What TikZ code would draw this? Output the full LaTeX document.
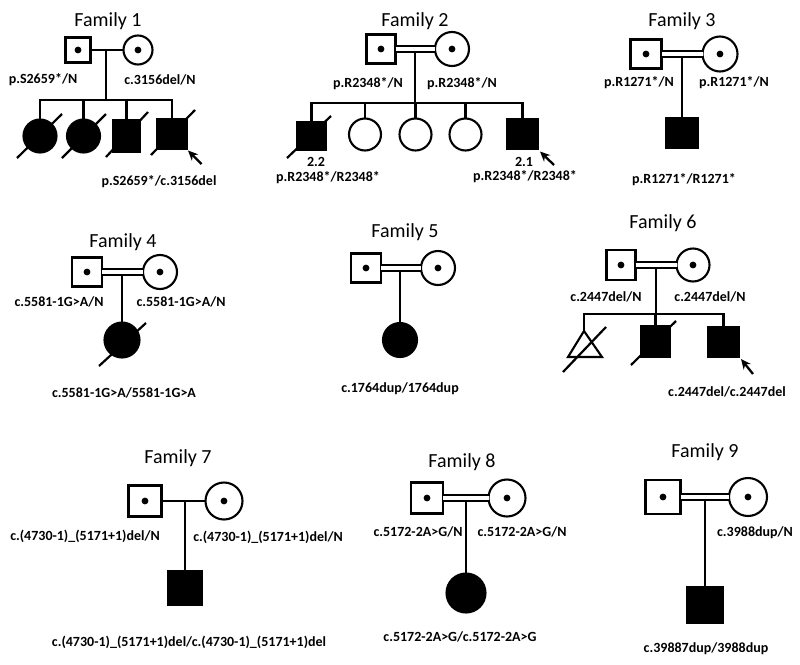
\documentclass[tikz,border=0pt]{standalone}
\usepackage{fontspec}
\setmainfont{Carlito}
\usetikzlibrary{arrows.meta}
\begin{document}
\begin{tikzpicture}[x=1pt,y=-1pt,line width=2.1pt,
  sq/.style args={#1x#2}{draw,rectangle,minimum width=#1pt,minimum height=#2pt,inner sep=0pt,outer sep=0pt,fill=white},
  ci/.style={draw,circle,minimum size=#1pt,inner sep=0pt,outer sep=0pt,fill=white},
  aff/.style={fill=black},
  lbl/.style={font=\bfseries\fontsize{14}{16}\selectfont,inner sep=0pt},
  ttl/.style={font=\fontsize{20}{24}\selectfont,inner sep=0pt},
  mar/.style={double,double distance=3.6pt,line width=1.9pt},
  prb/.style={-{Stealth[length=10pt,width=9pt]},line width=2.3pt},
  dead/.style={line width=2.2pt}]
\useasboundingbox (0,0) rectangle (800,664);

% ---------------- Family 1
\node[ttl] (t1) at (108,21) {Family 1};
\node[sq=25x25] (f1) at (78,50) {};
\node[ci=29] (m1) at (138,50) {};
\coordinate (d1) at (106,50);
\coordinate (s1) at (106,100);
\node[ci=33,aff] (c11) at (40,136) {};
\node[ci=33,aff] (c12) at (83.5,136) {};
\node[sq=26x31,aff] (c13) at (126.5,136) {};
\node[sq=29x30,aff] (c14) at (172,134) {};
\draw (f1) -- (m1);
\draw (d1) -- (s1);
\foreach \c in {c11,c12,c13,c14} \draw (\c.north) |- (s1);
\fill (f1) circle (3.4pt); \fill (m1) circle (3.4pt);
\draw[dead] (17,158) -- (62,114);
\draw[dead] (62,158) -- (106,114);
\draw[dead] (106,157) -- (148,112);
\draw[dead] (151,155) -- (195,110);
\draw[prb] ([shift={(15,15)}]c14.south east) -- ([shift={(1.5,1.5)}]c14.south east);
\node[lbl] (l1a) at (43,80) {p.S2659*/N};
\node[lbl] (l1b) at (160,80) {c.3156del/N};
\node[lbl] (l1c) at (159,182) {p.S2659*/c.3156del};

% ---------------- Family 2
\node[ttl] (t2) at (415,21) {Family 2};
\node[sq=29x29] (f2) at (381,49) {};
\node[ci=34] (m2) at (452,49) {};
\coordinate (d2) at (415,49);
\coordinate (s2) at (415,103);
\node[sq=29x28,aff] (c21) at (311.5,136) {};
\node[ci=32] (c22) at (365,134.5) {};
\node[ci=32] (c23) at (415.5,134.5) {};
\node[ci=32] (c24) at (465.5,134.5) {};
\node[sq=31x30,aff] (c25) at (522.5,134) {};
\draw (d2) -- (s2);
\foreach \c in {c21,c22,c23,c24,c25} \draw (\c.north) |- (s2);
\draw[mar] (f2) -- (m2);
\fill (f2) circle (3.4pt); \fill (m2) circle (3.4pt);
\draw[dead] (287,158) -- (331,116);
\draw[prb] ([shift={(16,16)}]c25.south east) -- ([shift={(2,2.5)}]c25.south east);
\node[lbl] (n22) at (316,162) {2.2};
\node[lbl] (n21) at (524,162) {2.1};
\node[lbl] (l2a) at (368,84) {p.R2348*/N};
\node[lbl] (l2b) at (462,84) {p.R2348*/N};
\node[lbl] (l2c) at (328,178) {p.R2348*/R2348*};
\node[lbl] (l2d) at (525,177) {p.R2348*/R2348*};

% ---------------- Family 3
\node[ttl] (t3) at (682,21) {Family 3};
\node[sq=31x29] (f3) at (646,54) {};
\node[ci=35] (m3) at (720,54) {};
\coordinate (d3) at (682,54);
\node[sq=31x30,aff] (c31) at (682,133) {};
\draw (d3) -- (c31.north);
\draw[mar] (f3) -- (m3);
\fill (f3) circle (3.4pt); \fill (m3) circle (3.4pt);
\node[lbl] (l3a) at (639,83) {p.R1271*/N};
\node[lbl] (l3b) at (734,83) {p.R1271*/N};
\node[lbl] (l3c) at (684,180) {p.R1271*/R1271*};

% ---------------- Family 4
\node[ttl] (t4) at (123,242) {Family 4};
\node[sq=30x29] (f4) at (87,272) {};
\node[ci=34] (m4) at (160,272) {};
\coordinate (d4) at (122,272);
\node[ci=35,aff] (c41) at (122,340) {};
\draw (d4) -- (c41.north);
\draw[mar] (f4) -- (m4);
\fill (f4) circle (3.4pt); \fill (m4) circle (3.4pt);
\draw[dead] (99,366) -- (146,323);
\node[lbl] (l4a) at (59,302) {c.5581-1G>A/N};
\node[lbl] (l4b) at (181,302) {c.5581-1G>A/N};
\node[lbl] (l4c) at (124,393) {c.5581-1G>A/5581-1G>A};

% ---------------- Family 5
\node[ttl] (t5) at (405,232) {Family 5};
\node[sq=30x29] (f5) at (366,268) {};
\node[ci=34] (m5) at (438,268) {};
\coordinate (d5) at (400,268);
\node[ci=34,aff] (c51) at (400,340) {};
\draw (d5) -- (c51.north);
\draw[mar] (f5) -- (m5);
\fill (f5) circle (3.4pt); \fill (m5) circle (3.4pt);
\node[lbl] (l5c) at (400,389) {c.1764dup/1764dup};

% ---------------- Family 6
\node[ttl] (t6) at (663,223) {Family 6};
\node[sq=29x30] (f6) at (621,265) {};
\node[ci=33] (m6) at (693,265) {};
\coordinate (d6) at (656,265);
\coordinate (s6) at (656,314);
\coordinate (c61) at (584,331);
\draw[line join=miter] (c61) -- (568,357) -- (602,357) -- cycle;
\node[sq=29x31,aff] (c62) at (655.5,341.5) {};
\node[sq=31x30,aff] (c63) at (723.5,342) {};
\draw (d6) -- (s6);
\draw (c61) |- (s6);
\foreach \c in {c62,c63} \draw (\c.north) |- (s6);
\draw[mar] (f6) -- (m6);
\fill (f6) circle (3.4pt); \fill (m6) circle (3.4pt);
\draw[dead] (563,372) -- (606,327);
\draw[dead] (631,365) -- (676,321);
\draw[prb] ([shift={(14,17)}]c63.south east) -- ([shift={(2,2)}]c63.south east);
\node[lbl] (l6a) at (606,297) {c.2447del/N};
\node[lbl] (l6b) at (710,297) {c.2447del/N};
\node[lbl] (l6c) at (727,392) {c.2447del/c.2447del};

% ---------------- Family 7
\node[ttl] (t7) at (178,458) {Family 7};
\node[sq=33x31] (f7) at (145,501) {};
\node[ci=37] (m7) at (224,501) {};
\coordinate (d7) at (185,501);
\node[sq=34x33,aff] (c71) at (185,588) {};
\draw (f7) -- (m7);
\draw (d7) -- (c71.north);
\fill (f7) circle (3.4pt); \fill (m7) circle (3.4pt);
\node[lbl] (l7a) at (85,536) {c.(4730-1)\_(5171+1)del/N};
\node[lbl] (l7b) at (268,537) {c.(4730-1)\_(5171+1)del/N};
\node[lbl] (l7c) at (189,642) {c.(4730-1)\_(5171+1)del/c.(4730-1)\_(5171+1)del};

% ---------------- Family 8
\node[ttl] (t8) at (462,462) {Family 8};
\node[sq=32x31] (f8) at (427,498) {};
\node[ci=37] (m8) at (507,498) {};
\coordinate (d8) at (466,498);
\node[ci=39,aff] (c81) at (466,593) {};
\draw (d8) -- (c81.north);
\draw[mar] (f8) -- (m8);
\fill (f8) circle (3.4pt); \fill (m8) circle (3.4pt);
\node[lbl] (l8a) at (418,532) {c.5172-2A>G/N};
\node[lbl] (l8b) at (522,532) {c.5172-2A>G/N};
\node[lbl] (l8c) at (460,637) {c.5172-2A>G/c.5172-2A>G};

% ---------------- Family 9
\node[ttl] (t9) at (705,452) {Family 9};
\node[sq=35x34] (f9) at (663,497) {};
\node[ci=38] (m9) at (748,497) {};
\coordinate (d9) at (705,497);
\node[sq=36x36,aff] (c91) at (705,605) {};
\draw (d9) -- (c91.north);
\draw[mar] (f9) -- (m9);
\fill (f9) circle (3.4pt); \fill (m9) circle (3.4pt);
\node[lbl] (l9b) at (755,533) {c.3988dup/N};
\node[lbl] (l9c) at (706,649) {c.39887dup/3988dup};
\end{tikzpicture}
\end{document}
